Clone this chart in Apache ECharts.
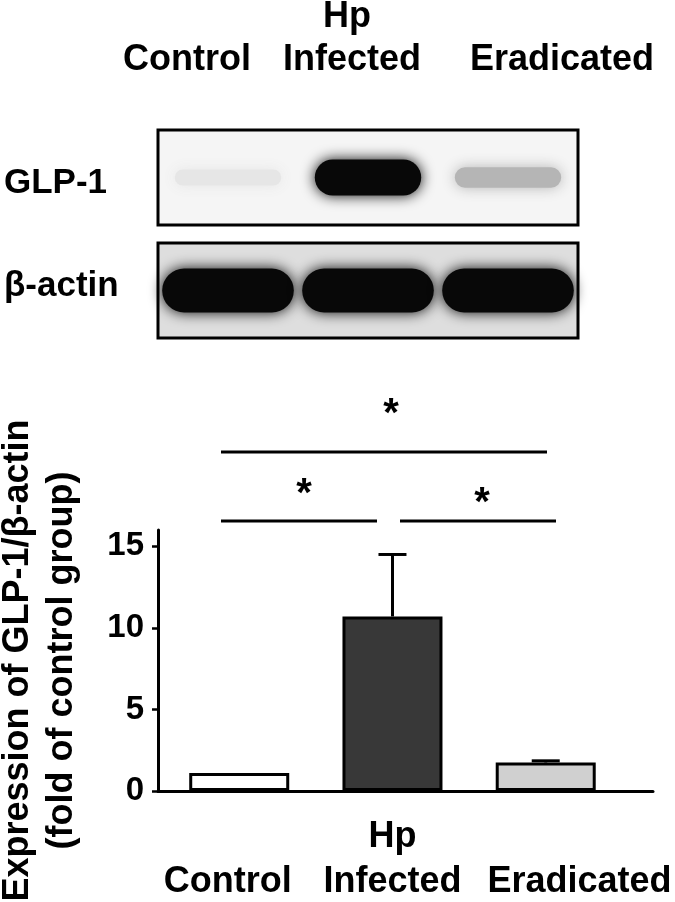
<!DOCTYPE html>
<html>
<head>
<meta charset="utf-8">
<script src="https://cdn.jsdelivr.net/npm/echarts@6/dist/echarts.min.js"></script>
<style>
  html, body { margin: 0; padding: 0; background: #fff; }
  #main { width: 675px; height: 902px; }
</style>
</head>
<body>
<div id="main"></div>
<script>
// data
var groups = ['Control', 'Infected', 'Eradicated'];
var groupPrefix = ['', 'Hp', ''];
var meanValues = [1.1, 10.7, 1.75];
var sdValues = [0, 3.8, 0.1];
var barColors = ['#ffffff', '#383838', '#d0d0d0'];
var yTicks = [0, 5, 10, 15];
// western blot band intensity per lane (0 = none, 1 = saturated)
var glpBand = [0.1, 1, 0.3];
var actinBand = [1, 1, 1];

var FONT = '"Liberation Sans", Arial, sans-serif';

var chart = echarts.init(document.getElementById('main'));

// the category labels under the bars are not centred on the bars in the figure
var labelShift = [-0.075, 0, 0.22];
var labelValues = groups.map(function (g, i) { return i + labelShift[i]; });

// blot band drawn as a blurred rounded rect
function bandRenderer(maxH, minH, widthFrac) {
  return function (params, api) {
    var k = api.value(1);
    var c = api.coord([api.value(0), 0.5]);
    var w = api.size([1, 0])[0] * widthFrac;
    var h = minH + (maxH - minH) * k;
    var g = Math.round(255 * (1 - 0.97 * k));
    var col = 'rgb(' + g + ',' + g + ',' + g + ')';
    return {
      type: 'rect',
      shape: { x: c[0] - w / 2, y: c[1] - h / 2, width: w, height: h, r: h / 2 },
      style: { fill: col, shadowBlur: 14, shadowColor: col }
    };
  };
}

var labelStyle = { fontSize: 36, fontWeight: 'bold', fontFamily: FONT, color: '#000', lineHeight: 45 };

var option = {
  backgroundColor: '#fff',
  animation: false,
  grid: [
    { left: 158, right: 22, top: 530, bottom: 111, containLabel: false, outerBoundsMode: 'none' },
    { left: 158, top: 130, width: 420, height: 95, show: true, backgroundColor: '#f5f5f5', borderColor: '#000', borderWidth: 3, outerBoundsMode: 'none' },
    { left: 158, top: 243, width: 420, height: 95, show: true, backgroundColor: '#dedede', borderColor: '#000', borderWidth: 3, outerBoundsMode: 'none' }
  ],
  xAxis: [
    {
      type: 'value', gridIndex: 0, min: -0.53, max: 2.7,
      axisLine: { show: true, lineStyle: { color: '#000', width: 3 } },
      axisTick: { show: false },
      splitLine: { show: false },
      axisLabel: {
        customValues: labelValues,
        margin: 24,
        hideOverlap: false,
        showMinLabel: true,
        showMaxLabel: true,
        formatter: function (v) {
          var i = Math.round(v);
          return (groupPrefix[i] || ' ') + '\n' + groups[i];
        },
        fontSize: 36, fontWeight: 'bold', fontFamily: FONT, color: '#000', lineHeight: 45
      }
    },
    { type: 'category', gridIndex: 1, data: groups, show: false },
    { type: 'category', gridIndex: 2, data: groups, show: false }
  ],
  yAxis: [
    {
      type: 'value', gridIndex: 0, min: 0, max: 16,
      axisLine: { show: true, onZero: false, lineStyle: { color: '#000', width: 3 } },
      axisTick: { show: true, customValues: yTicks, length: 6, lineStyle: { color: '#000', width: 2.5 } },
      splitLine: { show: false },
      axisLabel: {
        customValues: yTicks, margin: 14,
        showMinLabel: true, showMaxLabel: true,
        fontSize: 33, fontWeight: 'bold', fontFamily: FONT, color: '#000'
      },
      name: 'Expression of GLP-1/\u03b2-actin\n(fold of control group)',
      nameLocation: 'middle',
      nameRotate: 90,
      nameGap: 74,
      nameTextStyle: { fontSize: 36, fontWeight: 'bold', fontFamily: FONT, color: '#000', lineHeight: 44 }
    },
    { type: 'value', gridIndex: 1, min: 0, max: 1, show: false },
    { type: 'value', gridIndex: 2, min: 0, max: 1, show: false }
  ],
  series: [
    {
      type: 'bar', xAxisIndex: 0, yAxisIndex: 0, barWidth: 100,
      itemStyle: { borderColor: '#000', borderWidth: 3 },
      data: meanValues.map(function (v, i) {
        return { value: [i, v], itemStyle: { color: barColors[i] } };
      })
    },
    {
      type: 'custom', xAxisIndex: 0, yAxisIndex: 0, z: 3,
      data: meanValues.map(function (v, i) { return [i, v, sdValues[i]]; }),
      renderItem: function (params, api) {
        var sd = api.value(2);
        if (!sd) return;
        var p0 = api.coord([api.value(0), api.value(1)]);
        var p1 = api.coord([api.value(0), api.value(1) + sd]);
        var st = { stroke: '#000', lineWidth: 3 };
        return {
          type: 'group',
          children: [
            { type: 'line', shape: { x1: p0[0], y1: p0[1], x2: p1[0], y2: p1[1] }, style: st },
            { type: 'line', shape: { x1: p1[0] - 14, y1: p1[1], x2: p1[0] + 14, y2: p1[1] }, style: st }
          ]
        };
      }
    },
    {
      type: 'custom', xAxisIndex: 1, yAxisIndex: 1,
      data: glpBand.map(function (v, i) { return [i, v]; }),
      renderItem: bandRenderer(36, 14, 0.76)
    },
    {
      type: 'custom', xAxisIndex: 2, yAxisIndex: 2,
      data: actinBand.map(function (v, i) { return [i, v]; }),
      renderItem: bandRenderer(44, 10, 0.94)
    }
  ],
  graphic: [
    // lane labels above the blot
    { type: 'text', x: 187, y: 60, style: { text: 'Control', font: 'bold 36px ' + FONT, fill: '#000', align: 'center', verticalAlign: 'middle' } },
    { type: 'text', x: 347, y: 17, style: { text: 'Hp', font: 'bold 36px ' + FONT, fill: '#000', align: 'center', verticalAlign: 'middle' } },
    { type: 'text', x: 352, y: 60, style: { text: 'Infected', font: 'bold 36px ' + FONT, fill: '#000', align: 'center', verticalAlign: 'middle' } },
    { type: 'text', x: 562, y: 60, style: { text: 'Eradicated', font: 'bold 36px ' + FONT, fill: '#000', align: 'center', verticalAlign: 'middle' } },
    // blot row labels
    { type: 'text', x: 4, y: 183, style: { text: 'GLP-1', font: 'bold 35px ' + FONT, fill: '#000', align: 'left', verticalAlign: 'middle' } },
    { type: 'text', x: 4, y: 286, style: { text: '\u03b2-actin', font: 'bold 35px ' + FONT, fill: '#000', align: 'left', verticalAlign: 'middle' } },
    // significance brackets
    { type: 'line', shape: { x1: 221, y1: 452, x2: 547, y2: 452 }, style: { stroke: '#000', lineWidth: 3 } },
    { type: 'line', shape: { x1: 221, y1: 521, x2: 377, y2: 521 }, style: { stroke: '#000', lineWidth: 3 } },
    { type: 'line', shape: { x1: 400, y1: 521, x2: 556, y2: 521 }, style: { stroke: '#000', lineWidth: 3 } },
    { type: 'text', x: 391, y: 415, style: { text: '*', font: 'bold 40px ' + FONT, fill: '#000', align: 'center', verticalAlign: 'middle' } },
    { type: 'text', x: 304, y: 495, style: { text: '*', font: 'bold 40px ' + FONT, fill: '#000', align: 'center', verticalAlign: 'middle' } },
    { type: 'text', x: 482, y: 504, style: { text: '*', font: 'bold 40px ' + FONT, fill: '#000', align: 'center', verticalAlign: 'middle' } }
  ]
};

chart.setOption(option);
</script>
</body>
</html>
